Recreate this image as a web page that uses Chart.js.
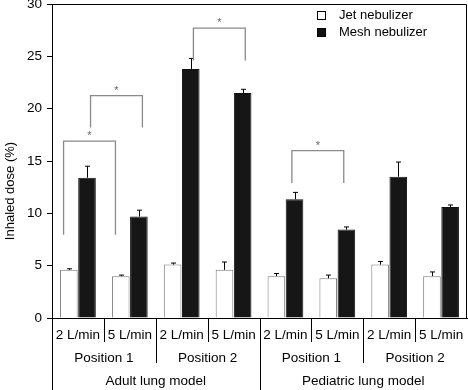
<!DOCTYPE html>
<html>
<head>
<meta charset="utf-8">
<script src="https://cdn.jsdelivr.net/npm/chart.js@4"></script>
<style>
  html, body { margin: 0; padding: 0; background: #fff; }
  #wrap { width: 468px; height: 390px; position: relative; }
</style>
</head>
<body>
<div id="wrap"><canvas id="chart"></canvas></div>
<script>
// flow rate for each bar pair, then position and model groups
const flows = ['2 L/min', '5 L/min', '2 L/min', '5 L/min', '2 L/min', '5 L/min', '2 L/min', '5 L/min']
const positions = ['Position 1', 'Position 2', 'Position 1', 'Position 2']
const models = ['Adult lung model', 'Pediatric lung model']

const jetDose = [4.6, 4.0, 5.1, 4.6, 4.0, 3.8, 5.1, 4.0]
const jetErr = [0.1, 0.1, 0.15, 0.75, 0.25, 0.3, 0.3, 0.4]
const meshDose = [13.4, 9.7, 23.8, 21.5, 11.35, 8.45, 13.5, 10.6]
const meshErr = [1.1, 0.6, 1.0, 0.35, 0.65, 0.25, 1.4, 0.2]

const yTicks = [0, 5, 10, 15, 20, 25, 30]

// significance brackets: [dataset, category] at each end, top level, leg bottom
const brackets = [
    {a: [0, 0], b: [0, 1], top: 16.9, low: 7.95, shift: -0.3},
    {a: [1, 0], b: [1, 1], top: 21.25, low: 18.2, shift: 0.2},
    {a: [1, 2], b: [1, 3], top: 27.7, low: 24.6, shift: 0.15},
    {a: [1, 4], b: [1, 5], top: 16.0, low: 12.9, shift: -0.15}
]

const FONT = '"Liberation Sans", Arial, Helvetica, sans-serif'

const extras = {
    id: 'extras',
    afterDatasetsDraw(chart) {
        const ctx = chart.ctx
        const y = chart.scales.y
        const errs = [jetErr, meshErr]
        const vals = [jetDose, meshDose]
        ctx.save()
        ctx.strokeStyle = '#000'
        ctx.lineWidth = 1
        errs.forEach((err, d) => {
            chart.getDatasetMeta(d).data.forEach((bar, i) => {
                const top = y.getPixelForValue(vals[d][i] + err[i])
                const x = Math.round(bar.x) + 0.5
                ctx.beginPath()
                ctx.moveTo(x, bar.y)
                ctx.lineTo(x, top)
                ctx.moveTo(x - 2.5, top)
                ctx.lineTo(x + 2.5, top)
                ctx.stroke()
            })
        })

        // brackets
        ctx.strokeStyle = '#8a8a8a'
        ctx.lineWidth = 1.3
        ctx.fillStyle = '#666'
        ctx.font = '11px ' + FONT
        ctx.textAlign = 'center'
        ctx.textBaseline = 'middle'
        brackets.forEach(b => {
            const barA = chart.getDatasetMeta(b.a[0]).data[b.a[1]]
            const barB = chart.getDatasetMeta(b.b[0]).data[b.b[1]]
            const xa = barA.x + b.shift * barA.width
            const xb = barB.x + b.shift * barB.width
            const yt = y.getPixelForValue(b.top)
            const yl = y.getPixelForValue(b.low)
            ctx.beginPath()
            ctx.moveTo(xa, yl)
            ctx.lineTo(xa, yt)
            ctx.lineTo(xb, yt)
            ctx.lineTo(xb, yl)
            ctx.stroke()
            ctx.fillText('*', (xa + xb) / 2, yt - 5)
        })
        ctx.restore()
    },
    afterDraw(chart) {
        const ctx = chart.ctx
        const {left, right, top, bottom} = chart.chartArea
        const x = chart.scales.x
        const H = chart.height
        ctx.save()
        ctx.strokeStyle = '#000'
        ctx.lineWidth = 1
        // frame top / right
        ctx.beginPath()
        ctx.moveTo(left, top + 0.5)
        ctx.lineTo(right - 0.5, top + 0.5)
        ctx.lineTo(right - 0.5, bottom)
        ctx.stroke()
        // axis line continues down
        ctx.beginPath()
        ctx.moveTo(left + 0.5, bottom)
        ctx.lineTo(left + 0.5, H)
        ctx.stroke()

        const step = (x.getPixelForValue(1) - x.getPixelForValue(0))
        const edge = i => Math.round(x.getPixelForValue(i) - step / 2) + 0.5
        const r1 = bottom + 17, r2 = bottom + 40, r3 = bottom + 63.5
        ctx.fillStyle = '#000'
        ctx.font = '13.5px ' + FONT
        ctx.textAlign = 'center'
        ctx.textBaseline = 'middle'
        flows.forEach((f, i) => {
            ctx.fillText(f, x.getPixelForValue(i), r1)
            if (i > 0) {
                let end = bottom + 24
                if (i % 2 === 0) end = bottom + 45
                if (i % 4 === 0) end = H
                ctx.beginPath()
                ctx.moveTo(edge(i), bottom)
                ctx.lineTo(edge(i), end)
                ctx.stroke()
            }
        })
        positions.forEach((p, k) => {
            ctx.fillText(p, x.getPixelForValue(2 * k + 0.5), r2)
        })
        models.forEach((m, k) => {
            ctx.fillText(m, x.getPixelForValue(4 * k + 1.5), r3)
        })

        // y axis title, sits lower than the plot centre in the original
        ctx.save()
        ctx.translate(10.5, H / 2 - 4)
        ctx.rotate(-Math.PI / 2)
        ctx.font = '13px ' + FONT
        ctx.fillText('Inhaled dose (%)', 0, 0)
        ctx.restore()

        // legend
        const names = ['Jet nebulizer', 'Mesh nebulizer']
        const fills = ['#fff', '#111']
        ctx.font = '13px ' + FONT
        ctx.textAlign = 'left'
        names.forEach((n, k) => {
            const ly = top + 11.5 + k * 17
            ctx.fillStyle = fills[k]
            ctx.fillRect(right - 150, ly - 4.5, 9, 9)
            ctx.strokeStyle = '#000'
            ctx.strokeRect(right - 149.5, ly - 4, 8, 8)
            ctx.fillStyle = '#000'
            ctx.fillText(n, right - 128, ly)
        })
        ctx.restore()
    }
}

new Chart(document.getElementById('chart'), {
    type: 'bar',
    data: {
        labels: flows,
        datasets: [
            {
                label: 'Jet nebulizer',
                data: jetDose,
                backgroundColor: '#fff',
                borderColor: '#7a7a7a',
                borderWidth: 1,
                categoryPercentage: 0.7,
                barPercentage: 0.97
            },
            {
                label: 'Mesh nebulizer',
                data: meshDose,
                backgroundColor: '#161616',
                borderColor: '#111',
                borderWidth: 1,
                categoryPercentage: 0.7,
                barPercentage: 0.97
            }
        ]
    },
    options: {
        responsive: true,
        maintainAspectRatio: false,
        animation: false,
        layout: {padding: {top: 4, right: 1, left: 0, bottom: 0}},
        plugins: {legend: {display: false}, tooltip: {enabled: false}},
        scales: {
            x: {
                grid: {display: false},
                ticks: {display: false},
                border: {display: true, color: '#000', width: 1},
                afterFit(s) { s.height = 72; s.paddingLeft = 0; s.paddingRight = 0 }
            },
            y: {
                min: 0,
                max: 30,
                afterBuildTicks(s) { s.ticks = yTicks.map(v => ({value: v})) },
                grid: {drawOnChartArea: false, drawTicks: true, tickLength: 5, color: '#000'},
                border: {display: true, color: '#000', width: 1},
                ticks: {color: '#000', padding: 5, font: {family: FONT, size: 13.5}},
                afterFit(s) { s.width = 52; s.paddingTop = 0; s.paddingBottom = 0 }
            }
        }
    },
    plugins: [extras]
})
</script>
</body>
</html>
